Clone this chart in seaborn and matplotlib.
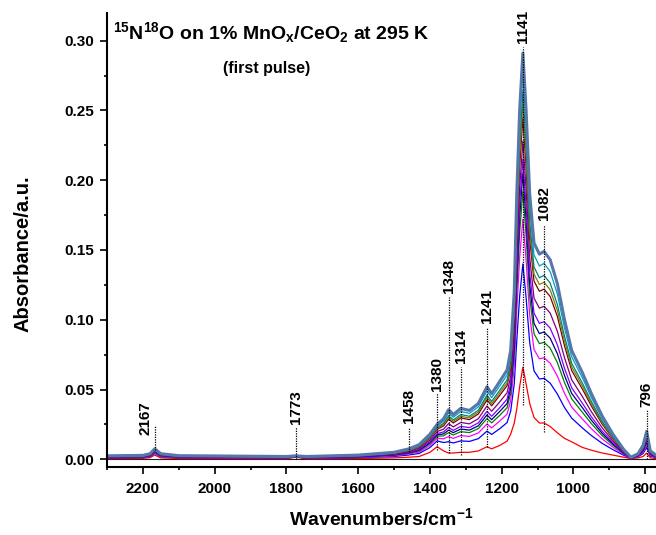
import pandas as pd
import matplotlib
matplotlib.use('Agg')
import matplotlib.pyplot as plt
from matplotlib.ticker import MultipleLocator
import seaborn as sns

# 数据：共用的波数网格 + 各次脉冲的吸光度（自下而上）
wavenumber = [2300, 2200, 2180, 2167, 2150, 2100, 1800, 1773, 1745, 1600,
              1500, 1458, 1430, 1400, 1380, 1362, 1348, 1335, 1314, 1290,
              1265, 1241, 1228, 1205, 1185, 1175, 1165, 1158, 1150, 1141,
              1132, 1122, 1110, 1095, 1082, 1065, 1045, 1025, 1005, 975,
              950, 920, 890, 860, 840, 820, 806, 796, 786, 770]

pulse_01 = [0.0005, 0.0006, 0.0012, 0.0030, 0.0010, 0.0005, 0.0004, 0.0015, 0.0003, 0.0005,
            0.0010, 0.0015, 0.0020, 0.0050, 0.0090, 0.0060, 0.0045, 0.0045, 0.0050, 0.0050,
            0.0060, 0.0090, 0.0075, 0.0100, 0.0130, 0.0180, 0.0260, 0.0360, 0.0520, 0.0660,
            0.0540, 0.0400, 0.0300, 0.0260, 0.0260, 0.0235, 0.0190, 0.0150, 0.0125, 0.0085,
            0.0065, 0.0045, 0.0030, 0.0015, 0.0005, 0.0010, 0.0020, 0.0045, 0.0010, 0.0005]
pulse_02 = [0.0010, 0.0012, 0.0019, 0.0042, 0.0018, 0.0011, 0.0008, 0.0018, 0.0007, 0.0012,
            0.0020, 0.0031, 0.0042, 0.0084, 0.0132, 0.0120, 0.0126, 0.0117, 0.0132, 0.0128,
            0.0148, 0.0202, 0.0178, 0.0220, 0.0263, 0.0345, 0.0541, 0.0850, 0.1167, 0.1400,
            0.1157, 0.0837, 0.0634, 0.0575, 0.0580, 0.0546, 0.0468, 0.0371, 0.0295, 0.0224,
            0.0170, 0.0114, 0.0069, 0.0029, 0.0008, 0.0018, 0.0041, 0.0085, 0.0023, 0.0012]
pulse_03 = [0.0013, 0.0014, 0.0023, 0.0047, 0.0021, 0.0013, 0.0010, 0.0019, 0.0010, 0.0015,
            0.0025, 0.0038, 0.0052, 0.0099, 0.0151, 0.0147, 0.0163, 0.0150, 0.0170, 0.0164,
            0.0189, 0.0253, 0.0225, 0.0275, 0.0324, 0.0420, 0.0666, 0.1064, 0.1446, 0.1720,
            0.1426, 0.1032, 0.0787, 0.0720, 0.0727, 0.0689, 0.0597, 0.0473, 0.0374, 0.0288,
            0.0219, 0.0146, 0.0087, 0.0036, 0.0009, 0.0021, 0.0050, 0.0104, 0.0029, 0.0015]
pulse_04 = [0.0014, 0.0016, 0.0025, 0.0051, 0.0024, 0.0015, 0.0012, 0.0020, 0.0011, 0.0017,
            0.0029, 0.0043, 0.0060, 0.0111, 0.0165, 0.0168, 0.0191, 0.0174, 0.0198, 0.0191,
            0.0220, 0.0292, 0.0261, 0.0316, 0.0370, 0.0474, 0.0750, 0.1201, 0.1623, 0.1920,
            0.1600, 0.1166, 0.0900, 0.0829, 0.0838, 0.0797, 0.0693, 0.0550, 0.0433, 0.0336,
            0.0255, 0.0170, 0.0101, 0.0041, 0.0010, 0.0024, 0.0058, 0.0118, 0.0034, 0.0017]
pulse_05 = [0.0016, 0.0018, 0.0027, 0.0054, 0.0026, 0.0016, 0.0012, 0.0020, 0.0012, 0.0018,
            0.0031, 0.0047, 0.0065, 0.0119, 0.0175, 0.0182, 0.0209, 0.0191, 0.0217, 0.0209,
            0.0240, 0.0318, 0.0284, 0.0344, 0.0400, 0.0509, 0.0805, 0.1290, 0.1736, 0.2050,
            0.1715, 0.1254, 0.0974, 0.0901, 0.0912, 0.0868, 0.0757, 0.0601, 0.0472, 0.0369,
            0.0280, 0.0186, 0.0110, 0.0044, 0.0011, 0.0026, 0.0062, 0.0127, 0.0037, 0.0018]
pulse_06 = [0.0017, 0.0019, 0.0029, 0.0057, 0.0028, 0.0017, 0.0013, 0.0021, 0.0013, 0.0020,
            0.0034, 0.0050, 0.0070, 0.0127, 0.0184, 0.0196, 0.0228, 0.0207, 0.0236, 0.0227,
            0.0261, 0.0344, 0.0308, 0.0371, 0.0431, 0.0543, 0.0854, 0.1363, 0.1826, 0.2150,
            0.1808, 0.1334, 0.1047, 0.0974, 0.0986, 0.0940, 0.0821, 0.0652, 0.0512, 0.0401,
            0.0304, 0.0201, 0.0119, 0.0047, 0.0011, 0.0028, 0.0067, 0.0137, 0.0040, 0.0020]
pulse_07 = [0.0019, 0.0021, 0.0031, 0.0061, 0.0030, 0.0019, 0.0015, 0.0022, 0.0015, 0.0022,
            0.0037, 0.0056, 0.0078, 0.0138, 0.0199, 0.0216, 0.0256, 0.0232, 0.0264, 0.0254,
            0.0291, 0.0382, 0.0344, 0.0413, 0.0477, 0.0593, 0.0921, 0.1459, 0.1943, 0.2280,
            0.1935, 0.1447, 0.1155, 0.1083, 0.1096, 0.1048, 0.0918, 0.0728, 0.0570, 0.0449,
            0.0340, 0.0225, 0.0132, 0.0052, 0.0012, 0.0030, 0.0074, 0.0150, 0.0044, 0.0022]
pulse_08 = [0.0021, 0.0023, 0.0034, 0.0065, 0.0033, 0.0021, 0.0016, 0.0023, 0.0016, 0.0025,
            0.0041, 0.0062, 0.0086, 0.0151, 0.0215, 0.0239, 0.0287, 0.0260, 0.0296, 0.0284,
            0.0325, 0.0425, 0.0383, 0.0459, 0.0528, 0.0650, 0.1001, 0.1581, 0.2094, 0.2450,
            0.2093, 0.1581, 0.1277, 0.1204, 0.1219, 0.1167, 0.1025, 0.0813, 0.0636, 0.0502,
            0.0381, 0.0252, 0.0147, 0.0058, 0.0013, 0.0033, 0.0082, 0.0166, 0.0049, 0.0025]
pulse_09 = [0.0021, 0.0024, 0.0035, 0.0067, 0.0035, 0.0022, 0.0017, 0.0023, 0.0017, 0.0026,
            0.0043, 0.0064, 0.0090, 0.0157, 0.0221, 0.0249, 0.0299, 0.0271, 0.0308, 0.0296,
            0.0339, 0.0443, 0.0399, 0.0477, 0.0548, 0.0675, 0.1042, 0.1649, 0.2182, 0.2550,
            0.2178, 0.1644, 0.1328, 0.1252, 0.1269, 0.1215, 0.1067, 0.0847, 0.0662, 0.0524,
            0.0397, 0.0262, 0.0153, 0.0060, 0.0013, 0.0035, 0.0086, 0.0172, 0.0051, 0.0026]
pulse_10 = [0.0022, 0.0025, 0.0036, 0.0069, 0.0036, 0.0023, 0.0018, 0.0024, 0.0018, 0.0027,
            0.0044, 0.0067, 0.0093, 0.0162, 0.0228, 0.0258, 0.0312, 0.0282, 0.0321, 0.0308,
            0.0352, 0.0460, 0.0415, 0.0496, 0.0569, 0.0699, 0.1079, 0.1710, 0.2261, 0.2640,
            0.2257, 0.1704, 0.1378, 0.1301, 0.1318, 0.1263, 0.1110, 0.0881, 0.0688, 0.0545,
            0.0413, 0.0273, 0.0159, 0.0062, 0.0014, 0.0036, 0.0089, 0.0178, 0.0053, 0.0027]
pulse_11 = [0.0024, 0.0027, 0.0038, 0.0072, 0.0038, 0.0025, 0.0019, 0.0024, 0.0019, 0.0028,
            0.0047, 0.0071, 0.0099, 0.0171, 0.0239, 0.0274, 0.0333, 0.0301, 0.0343, 0.0329,
            0.0376, 0.0490, 0.0442, 0.0528, 0.0604, 0.0740, 0.1140, 0.1808, 0.2384, 0.2780,
            0.2382, 0.1803, 0.1465, 0.1385, 0.1404, 0.1346, 0.1185, 0.0941, 0.0734, 0.0583,
            0.0442, 0.0292, 0.0170, 0.0066, 0.0014, 0.0038, 0.0094, 0.0189, 0.0057, 0.0028]
pulse_12 = [0.0025, 0.0028, 0.0040, 0.0075, 0.0040, 0.0026, 0.0020, 0.0025, 0.0020, 0.0030,
            0.0050, 0.0075, 0.0105, 0.0180, 0.0250, 0.0290, 0.0355, 0.0320, 0.0365, 0.0350,
            0.0400, 0.0520, 0.0470, 0.0560, 0.0640, 0.0780, 0.1200, 0.1900, 0.2500, 0.2910,
            0.2500, 0.1900, 0.1550, 0.1470, 0.1490, 0.1430, 0.1260, 0.1000, 0.0780, 0.0620,
            0.0470, 0.0310, 0.0180, 0.0070, 0.0015, 0.0040, 0.0100, 0.0200, 0.0060, 0.0030]

spectra = [pulse_01, pulse_02, pulse_03, pulse_04, pulse_05, pulse_06,
           pulse_07, pulse_08, pulse_09, pulse_10, pulse_11, pulse_12]
colors = ['#FF0000', '#0000FF', '#FF00FF', '#008000', '#000080', '#8000FF',
          '#800080', '#800000', '#808000', '#008080', '#00A0C0', '#5577AA']

# 峰位标注
peak_labels = ['2167', '1773', '1458', '1380', '1348', '1314', '1241', '1141', '1082', '796']
peak_wn = [2167, 1773, 1458, 1380, 1348, 1314, 1241, 1141, 1082, 796]
label_wn = [2192, 1773, 1458, 1380, 1348, 1314, 1241, 1141, 1082, 796]
line_bottom = [0.0067, 0.0005, 0.0052, 0.0067, 0.0045, 0.0030, 0.0088, 0.0390, 0.0198, 0.0000]
line_top = [0.0246, 0.0233, 0.0231, 0.0475, 0.1160, 0.0660, 0.0947, 0.2953, 0.1678, 0.0353]
label_bottom = [0.0174, 0.0255, 0.0258, 0.0490, 0.1190, 0.0690, 0.0977, 0.2986, 0.1712, 0.0375]

sns.set_style('ticks')
plt.rcParams['font.family'] = ['Liberation Sans', 'DejaVu Sans']
plt.rcParams['font.weight'] = 'bold'
plt.rcParams['mathtext.fontset'] = 'custom'
plt.rcParams['mathtext.rm'] = 'Liberation Sans:bold'
plt.rcParams['mathtext.it'] = 'Liberation Sans:bold'
plt.rcParams['mathtext.bf'] = 'Liberation Sans:bold'
# 全部用纯黑
plt.rcParams['text.color'] = 'black'
plt.rcParams['axes.labelcolor'] = 'black'
plt.rcParams['axes.edgecolor'] = 'black'
plt.rcParams['xtick.color'] = 'black'
plt.rcParams['ytick.color'] = 'black'

df = pd.DataFrame({
    'wavenumber': wavenumber * len(spectra),
    'absorbance': [v for s in spectra for v in s],
    'pulse': [f'p{i + 1:02d}' for i in range(len(spectra)) for _ in wavenumber],
})

fig = plt.figure(figsize=(6.56, 5.35), dpi=100)
ax = fig.add_axes([0.1631, 0.1277, 0.8369, 0.8475])

sns.lineplot(data=df, x='wavenumber', y='absorbance', hue='pulse',
             palette=colors, estimator=None, legend=False, linewidth=0.9, ax=ax)
ax.lines[-1].set_linewidth(2.2)

ax.axhline(0, color='#222222', linewidth=0.8, zorder=0)

# 虚线与峰位数字
ax.vlines(peak_wn, line_bottom, line_top, colors='black',
          linestyles=(0, (1, 1)), linewidth=0.9, zorder=5)
for lab, w, yb in zip(peak_labels, label_wn, label_bottom):
    ax.text(w, yb, lab, rotation=90, ha='center', va='bottom',
            fontsize=11, fontweight='bold', color='black')

ax.set_xlim(2300, 770)
ax.set_ylim(-0.0053, 0.3196)
ax.xaxis.set_major_locator(MultipleLocator(200))
ax.xaxis.set_minor_locator(MultipleLocator(100))
ax.yaxis.set_major_locator(MultipleLocator(0.05))
ax.yaxis.set_minor_locator(MultipleLocator(0.025))
ax.yaxis.set_major_formatter(plt.FormatStrFormatter('%.2f'))
ax.tick_params(which='major', direction='out', length=5, width=1.2, labelsize=11, pad=4.5)
ax.tick_params(which='minor', direction='out', length=2.5, width=1.2)
ax.tick_params(axis='x', which='major', pad=6)
for lab in ax.get_xticklabels() + ax.get_yticklabels():
    lab.set_fontweight('bold')

sns.despine(ax=ax)
ax.spines['left'].set_linewidth(1.5)
ax.spines['bottom'].set_linewidth(1.5)

ax.set_xlabel('Wavenumbers/cm$^{-1}$', fontsize=14, fontweight='bold', labelpad=8)
ax.set_ylabel('Absorbance/a.u.', fontsize=14.5, fontweight='bold')
ax.yaxis.set_label_coords(-0.135, 0.47)

ax.text(0.299, 0.942, r'$^{15}$N$^{18}$O on 1% MnO$_{x}$/CeO$_{2}$ at 295 K',
        transform=ax.transAxes, ha='center', va='baseline', fontsize=14, fontweight='bold')
ax.text(0.291, 0.868, '(first pulse)', transform=ax.transAxes, ha='center',
        va='baseline', fontsize=11.5, fontweight='bold')

fig.savefig('out.png', dpi=100)
